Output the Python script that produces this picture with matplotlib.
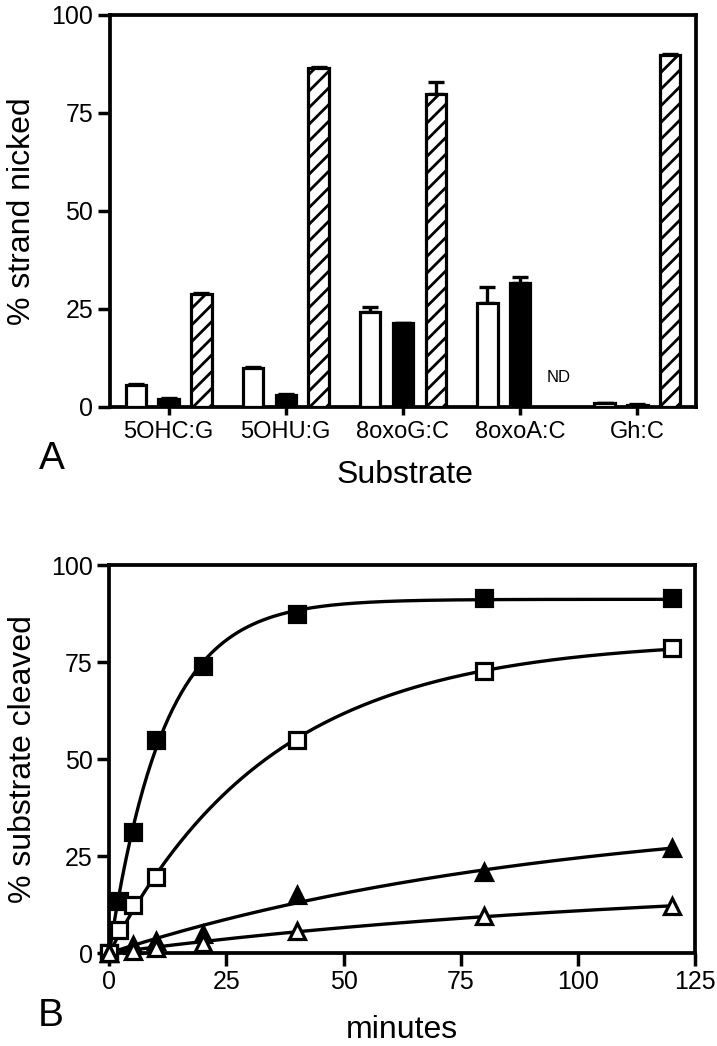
import numpy as np
import matplotlib
matplotlib.use("Agg")
import matplotlib.pyplot as plt

plt.rcParams["font.family"] = ["Liberation Sans", "DejaVu Sans"]
plt.rcParams["hatch.linewidth"] = 2.0

# --- panel A : % strand nicked par substrat
substrats = ["5OHC:G", "5OHU:G", "8oxoG:C", "8oxoA:C", "Gh:C"]
blanc = [5.6, 9.9, 24.3, 26.6, 0.9]
blanc_err = [0.3, 0.3, 1.3, 3.9, 0.1]
noir = [2.0, 3.0, 21.3, 31.7, 0.6]
noir_err = [0.2, 0.2, 0.2, 1.4, 0.1]
hachure = [28.8, 86.4, 79.8, np.nan, 89.8]
hachure_err = [0.3, 0.3, 3.2, np.nan, 0.2]

# --- panel B : cinetiques
t_carre_plein = [0, 2, 5, 10, 20, 40, 80, 120]
y_carre_plein = [0, 13.3, 31.2, 55.0, 74.0, 87.3, 91.6, 91.6]
t_carre_vide = [0, 2, 5, 10, 40, 80, 120]
y_carre_vide = [0, 5.9, 12.4, 19.5, 55.0, 72.7, 78.5]
t_tri_plein = [0, 5, 10, 20, 40, 80, 120]
y_tri_plein = [0, 2.0, 3.2, 5.0, 15.0, 21.0, 27.0]
t_tri_vide = [0, 5, 10, 20, 40, 80, 120]
y_tri_vide = [0, 0.5, 1.2, 2.5, 5.8, 9.6, 12.0]


def ajuster(t, y):
    # y = P * (1 - exp(-k t)), recherche simple sur k
    t = np.asarray(t, float)
    y = np.asarray(y, float)
    meilleur = None
    for k in np.logspace(-3.5, 0, 3000):
        f = 1 - np.exp(-k * t)
        P = (f @ y) / (f @ f)
        sse = np.sum((P * f - y) ** 2)
        if meilleur is None or sse < meilleur[0]:
            meilleur = (sse, P, k)
    return meilleur[1], meilleur[2]


fig = plt.figure(figsize=(7.17, 10.46), dpi=100)

# ---------------- A
axA = fig.add_axes([0.1534, 0.6109, 0.8173, 0.3748])
x = np.arange(len(substrats))
dx = 0.28
w = 0.175
lw = 2.3
axA.bar(x - dx, blanc, w, color="white", edgecolor="black", linewidth=lw, zorder=3)
axA.bar(x, noir, w, color="black", edgecolor="black", linewidth=lw, zorder=3)
axA.bar(x + dx, hachure, w, color="white", edgecolor="black", linewidth=lw,
        hatch="//", zorder=3)
for pos, val, err in [(x - dx, blanc, blanc_err), (x, noir, noir_err), (x + dx, hachure, hachure_err)]:
    axA.errorbar(pos, val, yerr=[np.zeros(len(err)), err], fmt="none", ecolor="black",
                 elinewidth=2.4, capsize=6, capthick=2.4, zorder=2)
axA.text(3 + dx + 0.05, 7.4, "ND", fontsize=12, ha="center", va="center")

axA.set_xlim(-0.5, 4.5)
axA.set_ylim(0, 100)
axA.set_yticks([0, 25, 50, 75, 100])
axA.set_xticks(x)
axA.set_xticklabels(substrats, fontsize=17)
axA.tick_params(axis="y", labelsize=18, length=9, width=2.5, pad=3)
axA.tick_params(axis="x", length=6, width=2.5, pad=4)
for s in axA.spines.values():
    s.set_linewidth(2.7)
axA.set_ylabel("% strand nicked", fontsize=23, va="center")
axA.yaxis.set_label_coords(-0.150, 0.5)
axA.set_xlabel("Substrate", fontsize=23, va="center")
axA.xaxis.set_label_coords(0.503, -0.173)
fig.text(0.0725, 1 - 459 / 1046, "A", fontsize=28, ha="center", va="center")

# ---------------- B
axB = fig.add_axes([0.1524, 0.0889, 0.8169, 0.3709])
t_fin = np.linspace(0, 120, 400)
series = [
    (t_carre_plein, y_carre_plein, "s", "black"),
    (t_carre_vide, y_carre_vide, "s", "white"),
    (t_tri_plein, y_tri_plein, "^", "black"),
    (t_tri_vide, y_tri_vide, "^", "white"),
]
for t, y, m, fc in series:
    P, k = ajuster(t, y)
    axB.plot(t_fin, P * (1 - np.exp(-k * t_fin)), color="black", lw=2.4, zorder=2)
    axB.plot(t, y, linestyle="none", marker=m, markersize=11.5, markerfacecolor=fc,
             markeredgecolor="black", markeredgewidth=2.3, clip_on=False, zorder=3)

axB.set_xlim(0, 125)
axB.set_ylim(0, 100)
axB.set_xticks([0, 25, 50, 75, 100, 125])
axB.set_yticks([0, 25, 50, 75, 100])
axB.tick_params(axis="both", labelsize=18, length=9, width=2.5, pad=3)
for s in axB.spines.values():
    s.set_linewidth(2.7)
axB.set_ylabel("% substrate cleaved", fontsize=23, va="center")
axB.yaxis.set_label_coords(-0.148, 0.5)
axB.set_xlabel("minutes", fontsize=23, va="baseline")
axB.xaxis.set_label_coords(0.5, -0.218)
fig.text(0.0711, 1 - 1016 / 1046, "B", fontsize=28, ha="center", va="center")

fig.savefig("out.png", dpi=100)
